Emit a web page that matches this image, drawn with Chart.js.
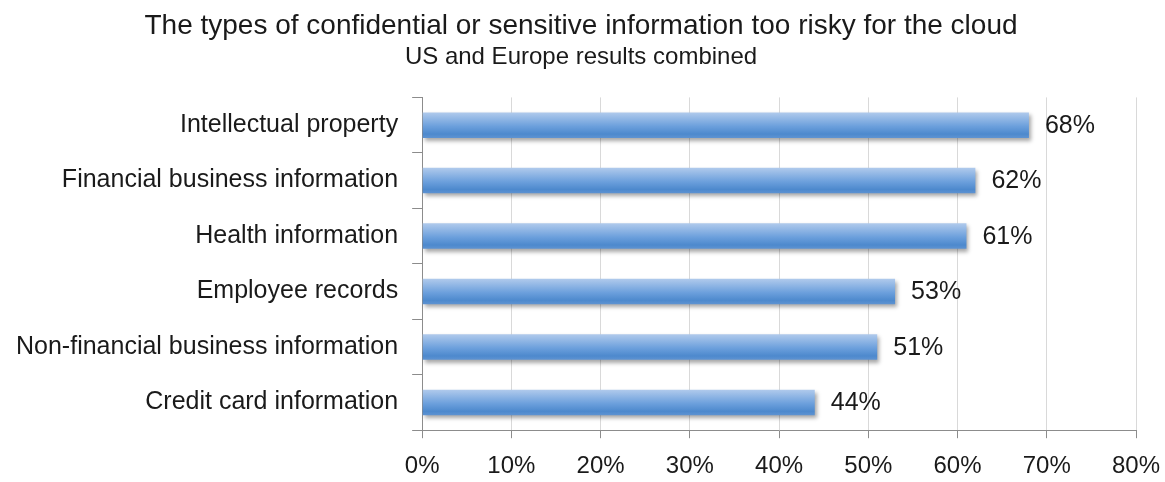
<!DOCTYPE html>
<html>
<head>
<meta charset="utf-8">
<script src="https://cdn.jsdelivr.net/npm/chart.js@4/dist/chart.umd.min.js"></script>
<style>
  body { margin: 0; background: #fff; }
  #wrap { width: 1165px; height: 482px; }
</style>
</head>
<body>
<div id="wrap"><canvas id="riskChart" width="1165" height="482"></canvas></div>
<script>
// chart data
const categories = [
  "Intellectual property",
  "Financial business information",
  "Health information",
  "Employee records",
  "Non-financial business information",
  "Credit card information"
];
const percentValues = [68, 62, 61, 53, 51, 44];
const xTicks = [0, 10, 20, 30, 40, 50, 60, 70, 80];

const textColor = "#1a1a1a";
const fontFamily = "'Liberation Sans', Arial, sans-serif";

// vertical gradient for each bar
function barGradient(context) {
  const chart = context.chart;
  if (!chart.chartArea || !chart.scales.y) return "#6a9edb";
  const yScale = chart.scales.y;
  const band = (chart.chartArea.bottom - chart.chartArea.top) / categories.length;
  const h = band * 0.46;
  const yc = yScale.getPixelForValue(context.dataIndex);
  const g = chart.ctx.createLinearGradient(0, yc - h / 2, 0, yc + h / 2);
  g.addColorStop(0, "#b0caec");
  g.addColorStop(0.55, "#6b9fdc");
  g.addColorStop(0.85, "#4d89cd");
  g.addColorStop(1, "#5e93d2");
  return g;
}

// soft shadow under the bars
const barShadow = {
  id: "barShadow",
  beforeDatasetDraw(chart) {
    const c = chart.ctx;
    c.save();
    c.shadowColor = "rgba(0,0,0,0.35)";
    c.shadowBlur = 4;
    c.shadowOffsetX = 2;
    c.shadowOffsetY = 3;
  },
  afterDatasetDraw(chart) {
    chart.ctx.restore();
  }
};

// value labels at the end of each bar
const valueLabels = {
  id: "valueLabels",
  afterDatasetsDraw(chart) {
    const c = chart.ctx;
    const meta = chart.getDatasetMeta(0);
    c.save();
    c.font = "25px " + fontFamily;
    c.fillStyle = textColor;
    c.textAlign = "left";
    c.textBaseline = "middle";
    meta.data.forEach((bar, i) => {
      c.fillText(percentValues[i] + "%", bar.x + 16, bar.y + 1);
    });
    c.restore();
  }
};

const data = {
  labels: categories,
  datasets: [
    {
      data: percentValues,
      backgroundColor: barGradient,
      borderWidth: 0,
      categoryPercentage: 1,
      barPercentage: 0.46
    }
  ]
};

const config = {
  type: "bar",
  data: data,
  options: {
    indexAxis: "y",
    responsive: false,
    animation: false,
    layout: { padding: { left: 2, right: 5, top: 0, bottom: -13 } },
    plugins: {
      legend: { display: false },
      tooltip: { enabled: false },
      title: {
        display: true,
        text: "The types of confidential or sensitive information too risky for the cloud",
        color: textColor,
        font: { family: fontFamily, size: 28, weight: "normal" },
        padding: { top: 9, bottom: 0 }
      },
      subtitle: {
        display: true,
        text: "US and Europe results combined",
        color: textColor,
        font: { family: fontFamily, size: 24, weight: "normal" },
        padding: { top: 0, bottom: 26 }
      }
    },
    scales: {
      x: {
        min: 0,
        max: 80,
        afterBuildTicks(scale) {
          scale.ticks = xTicks.map(v => ({ value: v }));
        },
        afterFit(scale) {
          // let the 80% label sit closer to the right edge
          scale.paddingRight = 29;
        },
        ticks: {
          color: textColor,
          font: { family: fontFamily, size: 24 },
          padding: 14,
          callback: v => v + "%"
        },
        grid: {
          color: "#d9d9d9",
          tickColor: "#8c8c8c",
          tickLength: 8,
          lineWidth: 1
        },
        border: { color: "#8c8c8c", width: 1 }
      },
      y: {
        ticks: {
          color: textColor,
          font: { family: fontFamily, size: 25 },
          padding: 14
        },
        grid: {
          drawOnChartArea: false,
          tickColor: "#8c8c8c",
          tickLength: 10
        },
        border: { color: "#8c8c8c", width: 1 }
      }
    }
  },
  plugins: [barShadow, valueLabels]
};

const riskChart = new Chart(document.getElementById("riskChart"), config);
</script>
</body>
</html>
